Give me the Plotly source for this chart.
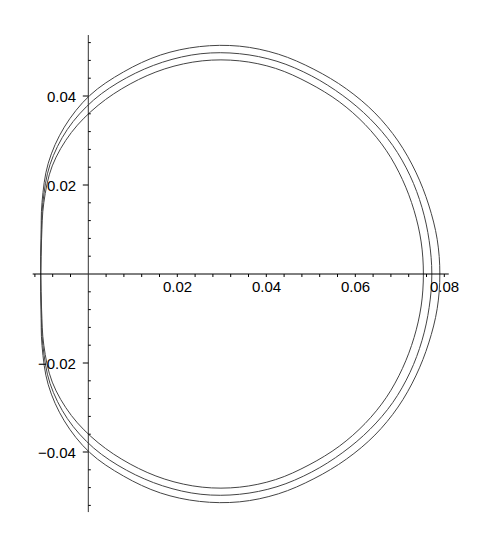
import plotly.graph_objects as go

# ---- data (upper half of each closed curve, right -> left) ----
outer_x = [0.0790, 0.0784, 0.0765, 0.0736, 0.0696, 0.0644, 0.0580, 0.0507, 0.0427, 0.0340,
           0.0250, 0.0162, 0.0079, 0.0003, -0.0054, -0.0090, -0.0104, -0.0106, -0.0107]
outer_y = [0.0000, 0.0078, 0.0155, 0.0229, 0.0299, 0.0362, 0.0416, 0.0460, 0.0494, 0.0512,
           0.0511, 0.0492, 0.0454, 0.0401, 0.0330, 0.0249, 0.0161, 0.0079, 0.0000]

middle_x = [0.0772, 0.0766, 0.0750, 0.0723, 0.0684, 0.0633, 0.0572, 0.0502, 0.0424, 0.0340,
            0.0253, 0.0167, 0.0086, 0.0012, -0.0047, -0.0086, -0.0102, -0.0106, -0.0107]
middle_y = [0.0000, 0.0075, 0.0149, 0.0221, 0.0289, 0.0349, 0.0401, 0.0445, 0.0478, 0.0495,
            0.0495, 0.0476, 0.0441, 0.0391, 0.0325, 0.0246, 0.0161, 0.0079, 0.0000]

inner_x = [0.0753, 0.0748, 0.0732, 0.0706, 0.0670, 0.0622, 0.0564, 0.0496, 0.0421, 0.0340,
           0.0256, 0.0172, 0.0094, 0.0022, -0.0038, -0.0081, -0.0100, -0.0105, -0.0107]
inner_y = [0.0000, 0.0072, 0.0143, 0.0212, 0.0277, 0.0336, 0.0387, 0.0429, 0.0462, 0.0479,
           0.0479, 0.0461, 0.0427, 0.0379, 0.0318, 0.0243, 0.0160, 0.0079, 0.0000]

x_tick_vals = [0.02, 0.04, 0.06, 0.08]
x_tick_text = ["0.02", "0.04", "0.06", "0.08"]
y_tick_vals = [-0.04, -0.02, 0.02, 0.04]
y_tick_text = ["\u22120.04", "\u22120.02", "0.02", "0.04"]
x_minor = [round(-0.012 + 0.004 * i, 4) for i in range(24)]
y_minor = [round(-0.052 + 0.004 * i, 4) for i in range(27)]

# ---- geometry ----
W, H = 483, 545           # page body has an 8px margin
PX = 4450.0               # pixels per data unit (equal aspect)
OX, OY = 80.3, 266.0      # origin position inside the figure
x0 = -OX / PX
x1 = (W - OX) / PX
y1 = OY / PX
y0 = -(H - OY) / PX
px = 1.0 / PX

fig = go.Figure()


def closed(xs, ys):
    lx = list(xs) + list(reversed(xs))[1:]
    ly = list(ys) + [-v for v in reversed(ys)][1:]
    return lx, ly


for xs, ys in [(outer_x, outer_y), (middle_x, middle_y), (inner_x, inner_y)]:
    cx, cy = closed(xs, ys)
    fig.add_trace(go.Scatter(x=cx, y=cy, mode="lines",
                             line=dict(color="#444444", width=1, shape="spline", smoothing=1.0),
                             hoverinfo="skip", showlegend=False))

# axes lines
fig.add_trace(go.Scatter(x=[-0.0125, 0.0810], y=[0, 0], mode="lines",
                         line=dict(color="black", width=1), hoverinfo="skip", showlegend=False))
fig.add_trace(go.Scatter(x=[0, 0], y=[-0.0535, 0.0537], mode="lines",
                         line=dict(color="#333333", width=1), hoverinfo="skip", showlegend=False))

# tick marks
tx, ty = [], []
for v in x_minor:
    if abs(v) < 1e-9:
        continue
    tx += [v, v, None]
    ty += [0, -3 * px, None]
for v in y_minor:
    if abs(v) < 1e-9:
        continue
    if any(abs(v - m) < 1e-9 for m in y_tick_vals):
        tx += [0, -5.5 * px, None]
    else:
        tx += [0, 2.5 * px, None]
    ty += [v, v, None]
fig.add_trace(go.Scatter(x=tx, y=ty, mode="lines", line=dict(color="black", width=1),
                         hoverinfo="skip", showlegend=False))

font = dict(family="Liberation Sans, Arial, Helvetica, sans-serif", size=15, color="black")
for v, t in zip(x_tick_vals, x_tick_text):
    fig.add_annotation(x=v, y=0, text=t, showarrow=False, xanchor="center", yanchor="middle",
                       yshift=-12, font=font)
for v, t in zip(y_tick_vals, y_tick_text):
    fig.add_annotation(x=0, y=v, text=t, showarrow=False, xanchor="right", yanchor="middle",
                       xshift=-10, font=font)

fig.update_layout(width=W, height=H, margin=dict(l=0, r=0, t=0, b=0),
                  paper_bgcolor="white", plot_bgcolor="white",
                  xaxis=dict(range=[x0, x1], visible=False, fixedrange=True),
                  yaxis=dict(range=[y0, y1], visible=False, fixedrange=True),
                  showlegend=False)

fig.write_html("out.html")
